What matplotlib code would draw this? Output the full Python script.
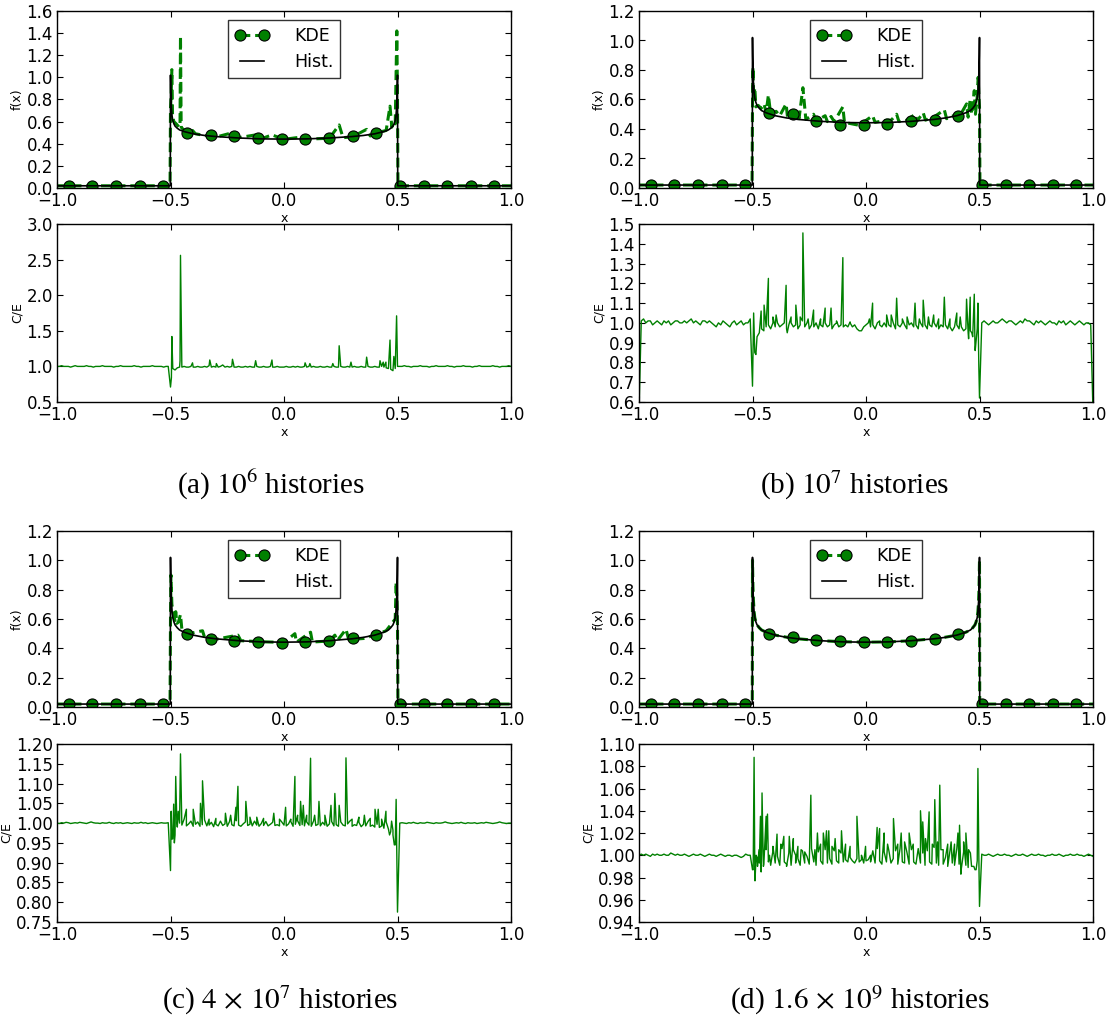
import numpy as np
import matplotlib
matplotlib.use('Agg')
import matplotlib.pyplot as plt
from matplotlib.lines import Line2D
from matplotlib.ticker import MultipleLocator

plt.rcParams['font.family'] = ['DejaVu Sans']
plt.rcParams['mathtext.fontset'] = 'stix'
plt.rcParams['xtick.direction'] = 'in'
plt.rcParams['ytick.direction'] = 'in'
plt.rcParams['xtick.top'] = True
plt.rcParams['ytick.right'] = True
plt.rcParams['xtick.major.size'] = 4
plt.rcParams['ytick.major.size'] = 4
plt.rcParams['xtick.major.pad'] = 3
plt.rcParams['ytick.major.pad'] = 3
plt.rcParams['axes.linewidth'] = 1.0

GREEN = '#008000'

# ---------------- histogram (expected) curve, same in every panel
hist_x = [-1.0, -0.501, -0.5, -0.499, -0.498, -0.496, -0.493, -0.49, -0.485, -0.48,
          -0.47, -0.46, -0.44, -0.42, -0.4, -0.35, -0.3, -0.2, -0.1, 0.0,
          0.1, 0.2, 0.3, 0.35, 0.4, 0.42, 0.44, 0.46, 0.47, 0.48,
          0.485, 0.49, 0.493, 0.496, 0.498, 0.499, 0.5, 0.501, 1.0]
hist_y = [0.02, 0.02, 1.02, 0.90, 0.82, 0.72, 0.65, 0.61, 0.58, 0.56,
          0.54, 0.525, 0.51, 0.50, 0.49, 0.475, 0.465, 0.452, 0.444, 0.442,
          0.444, 0.452, 0.465, 0.475, 0.49, 0.50, 0.51, 0.525, 0.54, 0.56,
          0.58, 0.61, 0.65, 0.72, 0.82, 0.90, 1.02, 0.02, 0.02]

# ---------------- KDE marker positions (every 50th point of the KDE grid)
mark_x = [-0.948, -0.844, -0.740, -0.635, -0.531, -0.427, -0.323, -0.219, -0.115, -0.010,
          0.094, 0.198, 0.302, 0.406, 0.510, 0.615, 0.719, 0.823, 0.927]
mark_a = [0.02, 0.02, 0.02, 0.02, 0.02, 0.50, 0.48, 0.47, 0.45, 0.44,
          0.445, 0.455, 0.47, 0.495, 0.02, 0.02, 0.02, 0.02, 0.02]
mark_b = [0.02, 0.02, 0.02, 0.02, 0.02, 0.51, 0.50, 0.455, 0.43, 0.43,
          0.435, 0.455, 0.46, 0.49, 0.02, 0.02, 0.02, 0.02, 0.02]
mark_c = [0.02, 0.02, 0.02, 0.02, 0.02, 0.50, 0.465, 0.452, 0.445, 0.438,
          0.44, 0.452, 0.468, 0.49, 0.02, 0.02, 0.02, 0.02, 0.02]
mark_d = [0.02, 0.02, 0.02, 0.02, 0.02, 0.50, 0.475, 0.46, 0.45, 0.44,
          0.445, 0.45, 0.465, 0.50, 0.02, 0.02, 0.02, 0.02, 0.02]

# ---------------- KDE curves
kde_a_x = [-1.0, -0.502, -0.5, -0.497, -0.494, -0.491, -0.485, -0.475, -0.462, -0.458,
           -0.456, -0.453, -0.44, -0.42, -0.403, -0.39, -0.35, -0.3, -0.227, -0.2,
           -0.125, -0.1, -0.053, 0.0, 0.093, 0.12, 0.2, 0.243, 0.26, 0.3,
           0.364, 0.38, 0.42, 0.45, 0.467, 0.475, 0.484, 0.49, 0.497, 0.5,
           0.502, 1.0]
kde_a_y = [0.02, 0.02, 0.72, 0.85, 1.07, 0.65, 0.6, 0.58, 0.55, 0.58,
           1.37, 0.55, 0.52, 0.50, 0.52, 0.49, 0.475, 0.46, 0.50, 0.455,
           0.48, 0.445, 0.48, 0.44, 0.465, 0.443, 0.45, 0.57, 0.455, 0.462,
           0.53, 0.47, 0.505, 0.52, 0.74, 0.55, 0.60, 0.58, 1.42, 0.8,
           0.02, 0.02]

kde_b_x = [-1.0, -0.502, -0.5, -0.498, -0.495, -0.49, -0.485, -0.475, -0.462, -0.449,
           -0.44, -0.43, -0.42, -0.396, -0.38, -0.352, -0.345, -0.309, -0.295, -0.278,
           -0.265, -0.231, -0.22, -0.18, -0.17, -0.154, -0.14, -0.102, -0.095, -0.03,
           0.029, 0.04, 0.091, 0.111, 0.135, 0.145, 0.181, 0.216, 0.225, 0.252,
           0.262, 0.298, 0.345, 0.355, 0.4, 0.41, 0.443, 0.45, 0.459, 0.466,
           0.477, 0.482, 0.49, 0.494, 0.498, 0.5, 0.502, 1.0]
kde_b_y = [0.02, 0.02, 0.55, 0.82, 0.6, 0.68, 0.55, 0.56, 0.54, 0.57,
           0.51, 0.63, 0.50, 0.52, 0.49, 0.57, 0.47, 0.52, 0.47, 0.68,
           0.465, 0.50, 0.455, 0.49, 0.45, 0.485, 0.45, 0.55, 0.445, 0.425,
           0.49, 0.445, 0.46, 0.46, 0.5, 0.45, 0.46, 0.5, 0.455, 0.51,
           0.46, 0.48, 0.53, 0.47, 0.5, 0.48, 0.57, 0.48, 0.6, 0.5,
           0.66, 0.5, 0.62, 0.75, 0.6, 0.55, 0.02, 0.02]

kde_c_x = [-1.0, -0.502, -0.5, -0.498, -0.494, -0.486, -0.48, -0.477, -0.472, -0.465,
           -0.456, -0.45, -0.42, -0.359, -0.35, -0.3, -0.203, -0.19, -0.1, 0.0,
           0.048, 0.055, 0.117, 0.125, 0.2, 0.224, 0.235, 0.273, 0.285, 0.35,
           0.4, 0.45, 0.48, 0.49, 0.494, 0.498, 0.5, 0.502, 1.0]
kde_c_y = [0.02, 0.02, 0.6, 0.9, 0.7, 0.62, 0.59, 0.65, 0.57, 0.58,
           0.63, 0.53, 0.5, 0.52, 0.475, 0.462, 0.49, 0.452, 0.445, 0.44,
           0.5, 0.442, 0.51, 0.443, 0.45, 0.49, 0.453, 0.53, 0.46, 0.467,
           0.49, 0.52, 0.58, 0.6, 0.85, 0.7, 0.55, 0.02, 0.02]

kde_d_x = hist_x
kde_d_y = [0.02, 0.02, 1.0, 0.90, 0.82, 0.73, 0.65, 0.61, 0.58, 0.56,
           0.54, 0.525, 0.51, 0.50, 0.49, 0.476, 0.465, 0.452, 0.445, 0.442,
           0.444, 0.452, 0.466, 0.476, 0.49, 0.50, 0.51, 0.525, 0.54, 0.56,
           0.58, 0.61, 0.65, 0.72, 0.82, 0.90, 1.0, 0.02, 0.02]

# ---------------- C/E ratio: regular grid (x = -1..1, 201 points) + narrow spikes
ce_a = [1.00, 1.00, 1.01, 1.00, 1.00, 1.00, 0.99, 1.00, 1.01, 1.00,
        1.00, 1.00, 1.00, 1.01, 1.00, 1.00, 0.99, 1.00, 1.00, 1.00,
        1.01, 1.00, 1.00, 1.00, 1.00, 0.99, 1.00, 1.00, 1.01, 1.00,
        1.00, 1.00, 1.00, 1.00, 1.01, 1.00, 1.00, 0.99, 1.00, 1.00,
        1.00, 1.00, 1.01, 1.00, 1.00, 1.00, 1.00, 0.99, 1.00, 1.00,
        0.71,
        0.97, 0.95, 0.98, 0.99, 0.99, 1.00, 0.99, 0.99, 1.00, 0.99,
        0.99, 1.00, 0.99, 0.99, 1.00, 0.99, 1.01, 0.99, 1.00, 0.99,
        0.99, 1.00, 1.02, 0.99, 1.00, 0.99, 1.00, 0.99, 0.99, 1.00,
        0.99, 0.99, 1.00, 0.99, 1.00, 0.99, 0.99, 1.00, 0.99, 0.99,
        1.00, 0.99, 0.99, 1.00, 0.99, 0.99, 1.00, 0.99, 0.99, 0.99,
        1.00, 0.99, 0.99, 1.00, 0.99, 1.00, 0.99, 0.99, 1.00, 0.99,
        1.00, 0.99, 1.00, 0.99, 0.99, 1.00, 0.99, 0.99, 1.00, 0.99,
        0.99, 1.00, 0.99, 0.99, 1.00, 0.99, 0.99, 1.00, 0.99, 0.99,
        1.00, 0.99, 0.99, 1.00, 0.99, 0.99, 1.00, 0.99, 0.99, 1.00,
        0.99, 0.99, 1.00, 0.99, 0.98, 0.97, 0.96, 0.94, 0.97,
        1.00,
        1.00, 1.00, 1.01, 1.00, 1.00, 0.99, 1.00, 1.00, 1.00, 1.01,
        1.00, 1.00, 1.00, 0.99, 1.00, 1.00, 1.01, 1.00, 1.00, 1.00,
        1.00, 1.01, 1.00, 1.00, 0.99, 1.00, 1.00, 1.00, 1.01, 1.00,
        1.00, 1.00, 0.99, 1.00, 1.00, 1.01, 1.00, 1.00, 1.00, 1.00,
        1.00, 1.01, 1.00, 1.00, 0.99, 1.00, 1.00, 1.00, 1.01, 1.00]
spike_a_x = [-0.496, -0.494, -0.458, -0.456, -0.403, -0.327, -0.298, -0.227, -0.222, -0.125,
             -0.053, 0.093, 0.114, 0.215, 0.243, 0.295, 0.364, 0.423, 0.437, 0.449,
             0.467, 0.484, 0.496]
spike_a_y = [0.84, 1.42, 1.08, 2.56, 1.05, 1.09, 1.04, 1.10, 1.03, 1.08,
             1.09, 1.05, 1.04, 1.04, 1.29, 1.06, 1.13, 1.08, 1.06, 1.06,
             1.37, 1.14, 1.71]

ce_b = [0.55, 1.01, 1.02, 1.00, 1.01, 1.01, 0.99, 1.00, 1.01, 1.00,
        0.99, 1.01, 1.00, 1.01, 0.99, 1.00, 1.01, 1.01, 1.00, 1.00,
        1.01, 1.00, 1.01, 1.02, 1.00, 1.01, 1.00, 0.99, 1.01, 1.01,
        1.00, 1.01, 1.00, 0.99, 0.98, 1.00, 0.99, 1.01, 1.00, 0.99,
        0.98, 1.00, 1.01, 0.99, 1.00, 1.01, 0.99, 1.00, 1.00, 1.02,
        0.68,
        0.85, 0.93, 0.95, 0.97, 0.96, 0.98, 0.99, 0.97, 1.00, 0.98,
        1.00, 0.98, 0.99, 1.00, 0.97, 0.99, 1.00, 0.98, 0.99, 0.97,
        0.99, 1.01, 0.98, 1.00, 0.97, 0.99, 0.98, 1.00, 0.97, 0.99,
        0.98, 1.00, 0.98, 0.99, 0.97, 0.99, 1.00, 0.98, 0.99, 0.98,
        0.99, 0.98, 1.00, 0.98, 0.99, 0.97, 0.96, 0.96, 0.98, 0.99,
        1.00, 0.98, 0.99, 0.97, 1.00, 0.99, 0.98, 1.00, 0.98, 0.99,
        0.98, 1.00, 0.97, 0.99, 0.98, 1.00, 0.99, 0.97, 0.99, 1.00,
        0.98, 0.99, 0.97, 1.00, 0.98, 0.99, 0.97, 0.99, 0.98, 1.00,
        0.98, 0.97, 0.99, 0.98, 0.99, 0.97, 0.98, 0.96, 0.98, 0.99,
        0.97, 0.98, 0.96, 0.97, 0.95, 0.96, 0.93, 0.88, 0.97,
        0.62,
        1.00, 1.01, 1.00, 0.99, 1.00, 1.01, 1.00, 1.00, 1.01, 1.02,
        1.01, 1.00, 1.01, 1.01, 1.00, 0.99, 1.00, 1.01, 1.00, 1.02,
        1.01, 1.01, 1.00, 0.99, 1.01, 1.00, 1.01, 1.00, 0.99, 1.00,
        1.01, 1.00, 1.00, 0.99, 1.01, 1.00, 1.01, 0.99, 1.00, 1.01,
        1.00, 0.99, 1.00, 1.01, 1.00, 0.99, 1.00, 1.00, 0.99, 0.55]
spike_b_x = [-0.495, -0.485, -0.462, -0.449, -0.43, -0.41, -0.396, -0.352, -0.347, -0.33,
             -0.309, -0.29, -0.278, -0.255, -0.231, -0.2, -0.18, -0.154, -0.13, -0.102,
             -0.07, 0.015, 0.029, 0.06, 0.091, 0.111, 0.135, 0.16, 0.181, 0.216,
             0.235, 0.252, 0.275, 0.298, 0.32, 0.345, 0.37, 0.4, 0.415, 0.443,
             0.452, 0.459, 0.466, 0.477, 0.481, 0.493, 0.497]
spike_b_y = [1.05, 0.84, 1.06, 1.09, 1.225, 1.03, 1.04, 1.19, 0.95, 1.03,
             1.09, 1.03, 1.455, 1.02, 1.065, 1.02, 1.075, 1.075, 1.01, 1.33,
             1.005, 1.02, 1.10, 1.01, 1.04, 1.04, 1.125, 1.02, 1.03, 1.10,
             1.02, 1.115, 1.03, 1.04, 1.02, 1.13, 1.02, 1.05, 1.03, 1.12,
             0.92, 1.13, 0.95, 1.145, 0.86, 1.10, 0.78]

ce_c = [1.000, 0.999, 1.001, 1.000, 1.002, 1.001, 0.999, 1.000, 1.001, 1.000,
        1.002, 1.001, 1.000, 0.999, 1.001, 1.003, 1.001, 1.000, 1.000, 0.999,
        1.001, 1.000, 1.000, 1.002, 1.000, 0.999, 1.001, 1.000, 1.001, 0.999,
        1.000, 1.001, 1.000, 0.999, 1.001, 1.000, 1.000, 1.002, 1.000, 1.001,
        0.999, 1.000, 1.001, 1.000, 0.999, 1.000, 1.001, 1.000, 1.000, 1.001,
        0.88,
        0.96, 0.97, 0.99, 1.00, 0.995, 1.01, 0.993, 0.998, 1.005, 0.992,
        0.997, 1.003, 0.992, 0.996, 1.008, 0.993, 0.995, 1.002, 0.991, 0.997,
        0.993, 1.005, 0.994, 0.998, 0.992, 1.004, 0.996, 0.993, 1.006, 0.995,
        0.992, 0.998, 1.003, 0.994, 0.997, 0.993, 1.005, 0.995, 0.992, 0.999,
        0.994, 1.004, 0.993, 0.997, 1.002, 0.994, 0.996, 0.993, 1.003, 0.995,
        0.993, 0.998, 1.004, 0.992, 0.997, 1.006, 0.994, 0.996, 0.993, 1.003,
        0.995, 0.992, 1.005, 0.994, 0.997, 0.993, 1.002, 0.995, 0.992, 0.998,
        1.004, 0.993, 0.996, 0.992, 1.003, 0.995, 0.993, 0.998, 1.005, 0.992,
        0.996, 0.994, 1.002, 0.991, 0.997, 0.993, 1.004, 0.992, 0.995, 0.990,
        0.997, 0.989, 0.993, 0.987, 1.003, 0.985, 0.978, 0.982, 0.945,
        0.775,
        1.000, 1.001, 1.000, 0.999, 1.001, 1.000, 1.002, 1.000, 0.999, 1.001,
        1.000, 1.000, 1.002, 1.001, 1.000, 0.999, 1.001, 1.000, 1.000, 1.001,
        1.003, 1.001, 1.000, 0.999, 1.000, 1.001, 1.000, 1.002, 1.000, 0.999,
        1.001, 1.000, 1.000, 1.001, 0.999, 1.000, 1.001, 1.000, 1.002, 1.001,
        1.000, 0.999, 1.000, 1.001, 1.003, 1.001, 1.000, 0.999, 1.000, 1.000]
spike_c_x = [-0.497, -0.494, -0.486, -0.483, -0.477, -0.472, -0.466, -0.456, -0.43, -0.4,
             -0.368, -0.359, -0.33, -0.3, -0.258, -0.235, -0.212, -0.203, -0.168, -0.15,
             -0.12, -0.09, -0.045, -0.02, 0.007, 0.03, 0.048, 0.06, 0.073, 0.085,
             0.1, 0.117, 0.135, 0.154, 0.18, 0.207, 0.224, 0.243, 0.273, 0.3,
             0.33, 0.354, 0.38, 0.401, 0.415, 0.43, 0.449, 0.465, 0.474, 0.48,
             0.486, 0.494]
spike_c_y = [1.03, 0.96, 1.048, 0.95, 1.118, 1.0, 1.03, 1.175, 1.035, 1.035,
             1.05, 1.107, 1.01, 1.012, 1.025, 1.02, 1.04, 1.093, 1.055, 1.015,
             1.015, 1.012, 1.025, 1.01, 1.04, 1.01, 1.118, 1.02, 1.055, 1.045,
             1.02, 1.164, 1.02, 1.055, 1.02, 1.045, 1.075, 1.045, 1.165, 1.01,
             1.015, 1.02, 1.012, 1.035, 1.035, 1.01, 1.03, 0.97, 1.005, 0.97,
             0.945, 1.06]

ce_d = [1.000, 1.001, 1.000, 1.001, 1.000, 0.999, 1.001, 1.000, 1.001, 1.000,
        1.000, 1.001, 1.000, 1.000, 1.002, 1.001, 1.000, 1.001, 1.000, 1.000,
        1.001, 1.000, 0.999, 1.000, 1.001, 1.000, 1.000, 1.001, 1.000, 0.999,
        1.000, 1.001, 1.000, 1.000, 0.999, 1.000, 1.001, 1.000, 0.999, 1.000,
        1.000, 0.999, 1.000, 1.000, 0.999, 0.998, 0.999, 1.001, 1.000, 1.000,
        0.987,
        0.990, 0.998, 0.993, 1.003, 0.992, 1.005, 0.994, 0.991, 1.004, 0.993,
        0.999, 0.991, 1.006, 0.994, 0.992, 1.002, 0.991, 1.005, 0.993, 0.997,
        0.991, 1.004, 0.993, 0.999, 0.992, 1.006, 0.994, 0.991, 1.003, 0.995,
        0.992, 1.005, 0.993, 0.997, 0.992, 1.004, 0.995, 0.993, 1.002, 0.994,
        0.996, 0.994, 0.998, 0.995, 0.993, 0.997, 0.994, 0.996, 0.993, 0.995,
        0.996, 0.994, 1.004, 0.993, 1.006, 0.995, 0.992, 1.003, 0.994, 1.005,
        0.993, 0.997, 1.004, 0.992, 1.006, 0.994, 0.993, 1.003, 0.992, 1.005,
        0.994, 0.992, 1.006, 0.993, 1.002, 0.991, 1.004, 0.994, 0.992, 1.007,
        0.993, 0.991, 1.005, 0.992, 0.998, 0.990, 1.004, 0.993, 0.991, 1.006,
        0.992, 0.988, 1.003, 0.991, 0.989, 1.002, 0.990, 0.987, 0.995,
        0.954,
        1.001, 1.000, 1.000, 1.001, 1.000, 0.999, 1.000, 1.001, 1.000, 1.000,
        1.001, 1.000, 1.000, 0.999, 1.000, 1.001, 1.000, 1.000, 1.001, 1.000,
        0.999, 1.000, 1.001, 1.000, 1.000, 1.001, 1.000, 1.000, 0.999, 1.000,
        1.000, 1.001, 1.000, 1.000, 1.001, 1.000, 0.999, 1.000, 1.000, 1.001,
        1.000, 1.000, 1.001, 1.000, 1.000, 0.999, 1.000, 1.001, 1.000, 0.999]
spike_d_x = [-0.497, -0.493, -0.489, -0.484, -0.478, -0.471, -0.465, -0.462, -0.458, -0.452,
             -0.44, -0.434, -0.425, -0.41, -0.392, -0.375, -0.362, -0.35, -0.338, -0.32,
             -0.31, -0.3, -0.286, -0.27, -0.243, -0.225, -0.214, -0.2, -0.188, -0.174,
             -0.164, -0.15, -0.136, -0.12, -0.108, -0.09, -0.07, -0.04, -0.02, -0.002,
             0.02, 0.049, 0.06, 0.08, 0.095, 0.121, 0.14, 0.155, 0.17, 0.19,
             0.208, 0.24, 0.25, 0.262, 0.278, 0.292, 0.303, 0.315, 0.325, 0.34,
             0.36, 0.375, 0.39, 0.405, 0.412, 0.418, 0.43, 0.44, 0.452, 0.465,
             0.475, 0.485, 0.493, 0.497]
spike_d_y = [0.987, 1.088, 0.977, 1.0, 0.99, 1.005, 1.035, 0.985, 1.056, 0.99,
             1.035, 1.037, 1.0, 1.008, 1.019, 1.01, 1.017, 0.99, 1.017, 1.015,
             1.0, 1.008, 1.005, 1.003, 1.054, 1.005, 1.02, 1.01, 1.02, 1.022,
             1.022, 1.008, 1.015, 1.005, 1.022, 1.01, 1.008, 1.035, 1.0, 1.008,
             1.0, 1.025, 1.024, 1.02, 1.01, 1.033, 1.01, 1.02, 1.012, 1.02,
             1.01, 1.04, 1.03, 1.015, 1.039, 1.01, 1.05, 1.012, 1.063, 1.005,
             1.01, 1.012, 1.01, 1.02, 1.027, 0.983, 1.012, 1.02, 1.005, 0.99,
             0.99, 0.987, 1.078, 1.0]

captions = ['(a) $10^6$ histories', '(b) $10^7$ histories',
            '(c) $4\\,\\times\\,10^7$ histories', '(d) $1.6\\,\\times\\,10^9$ histories']

W, H = 1115.0, 1022.0
fig = plt.figure(figsize=(W / 100, H / 100), dpi=100)


def box(left, top, right, bottom):
    return [left / W, 1 - bottom / H, (right - left) / W, (bottom - top) / H]


def style(ax, ylim, ystep, ylabel):
    ax.set_xlim(-1, 1)
    ax.set_ylim(*ylim)
    ax.xaxis.set_major_locator(MultipleLocator(0.5))
    ax.yaxis.set_major_locator(MultipleLocator(ystep))
    ax.tick_params(labelsize=12)
    ax.set_xlabel('x', fontsize=9, labelpad=1)
    ax.set_ylabel(ylabel, fontsize=9, labelpad=2)


def draw_pdf(ax, kx, ky, my, ymax):
    ax.plot(kx, ky, '--', color=GREEN, lw=2.2, dashes=(3.2, 1.6))
    ax.plot(mark_x, my, 'o', ms=8, mfc=GREEN, mec='k', mew=0.8)
    ax.plot(hist_x, hist_y, '-', color='k', lw=1.2)
    style(ax, (0, ymax), 0.2, 'f(x)')
    h1 = Line2D([], [], color=GREEN, ls='--', lw=2.2, dashes=(3.2, 1.6), marker='o',
                ms=8, mfc=GREEN, mec='k', mew=0.8)
    h2 = Line2D([], [], color='k', lw=1.2)
    leg = ax.legend([h1, h2], ['KDE', 'Hist.'], loc='upper center', numpoints=2,
                    fontsize=12.5, fancybox=False, handlelength=2.0,
                    handletextpad=1.4, borderaxespad=0.5)
    leg.get_frame().set_edgecolor('k')
    leg.get_frame().set_linewidth(1.0)


def draw_ce(ax, grid_y, sx, sy, ylim, ystep):
    gx = np.linspace(-1, 1, len(grid_y))
    x = np.concatenate([gx, sx])
    y = np.concatenate([grid_y, sy])
    order = np.argsort(x, kind='stable')
    ax.plot(x[order], y[order], '-', color=GREEN, lw=1.0)
    style(ax, ylim, ystep, 'C/E')


cols = [(57, 511), (639, 1093)]
rows = [(11, 188, 224, 402), (531, 707, 744, 922)]

panels = [
    (0, 0, kde_a_x, kde_a_y, mark_a, 1.6, ce_a, spike_a_x, spike_a_y, (0.5, 3.0), 0.5),
    (0, 1, kde_b_x, kde_b_y, mark_b, 1.2, ce_b, spike_b_x, spike_b_y, (0.6, 1.5), 0.1),
    (1, 0, kde_c_x, kde_c_y, mark_c, 1.2, ce_c, spike_c_x, spike_c_y, (0.75, 1.20), 0.05),
    (1, 1, kde_d_x, kde_d_y, mark_d, 1.2, ce_d, spike_d_x, spike_d_y, (0.94, 1.10), 0.02),
]

for r, c, kx, ky, my, ymax, ce, sx, sy, ylim, ystep in panels:
    l, rr = cols[c]
    t1, b1, t2, b2 = rows[r]
    ax1 = fig.add_axes(box(l, t1, rr, b1))
    draw_pdf(ax1, kx, ky, my, ymax)
    ax2 = fig.add_axes(box(l, t2, rr, b2))
    draw_ce(ax2, ce, sx, sy, ylim, ystep)

cap_pos = [(271, 485), (855, 485), (280, 1000), (860, 1000)]
for (cx, cy), txt in zip(cap_pos, captions):
    fig.text(cx / W, 1 - cy / H, txt, ha='center', va='center', fontsize=21,
             family='Liberation Serif')

fig.savefig('out.png', dpi=100)
